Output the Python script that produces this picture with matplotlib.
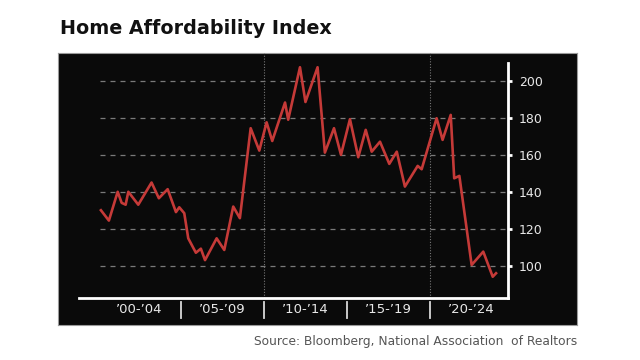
import matplotlib
matplotlib.use("Agg")
import matplotlib.pyplot as plt
import matplotlib.transforms as mtransforms

# values
years = [2000.18, 2000.66, 2001.19, 2001.43, 2001.67, 2001.83, 2002.43, 2003.23,
         2003.67, 2004.20, 2004.70, 2004.90, 2005.20, 2005.44, 2005.90, 2006.20,
         2006.45, 2007.15, 2007.61, 2008.15, 2008.55, 2009.20, 2009.72, 2010.16,
         2010.50, 2011.27, 2011.46, 2012.17, 2012.50, 2013.23, 2013.67, 2014.22,
         2014.64, 2015.18, 2015.68, 2016.13, 2016.49, 2016.99, 2017.55, 2018.00,
         2018.49, 2019.26, 2019.50, 2020.40, 2020.76, 2021.25, 2021.46, 2021.77,
         2022.51, 2023.21, 2023.78, 2023.98]
index = [130.0, 124.4, 140.0, 134.0, 133.0, 140.0, 133.0, 145.0,
         136.5, 141.4, 129.0, 131.6, 128.4, 114.8, 107.0, 109.2,
         103.0, 114.8, 108.5, 132.0, 125.7, 174.4, 162.3, 177.6,
         167.5, 188.3, 179.0, 207.4, 188.6, 207.4, 161.2, 174.4,
         160.0, 179.3, 158.7, 173.5, 161.7, 167.1, 155.1, 161.7,
         142.8, 154.0, 152.2, 179.8, 168.1, 181.6, 147.3, 148.6,
         100.4, 107.6, 94.0, 95.9]

period_labels = ["’00-’04", "’05-’09", "’10-’14", "’15-’19", "’20-’24"]
period_starts = [2000, 2005, 2010, 2015, 2020]
y_ticks = [100, 120, 140, 160, 180, 200]

fig = plt.figure(figsize=(6.4, 3.6), dpi=100)
W, H = 640, 360

# black panel behind the chart
bg = fig.add_axes([58 / W, 1 - 325 / H, 519 / W, 272 / H], zorder=0)
bg.set_facecolor("#0a0a0a")
bg.set_xticks([])
bg.set_yticks([])
for s in bg.spines.values():
    s.set_color("#9a9a9a")
    s.set_linewidth(0.8)

fig.text(60 / W, 1 - 28 / H, "Home Affordability Index", fontsize=13.8,
         fontweight="bold", color="#111111", va="center", ha="left")
fig.text(577 / W, 1 - 341 / H, "Source: Bloomberg, National Association  of Realtors",
         fontsize=8.8, color="#555555", va="center", ha="right")

ax = fig.add_axes([79 / W, 1 - 298 / H, (508 - 79) / W, (298 - 63) / H], zorder=1)
ax.set_facecolor("none")
ax.set_xlim(1998.86, 2024.70)
ax.set_ylim(82.5, 209.7)

for s in ["top", "left"]:
    ax.spines[s].set_visible(False)
for s in ["bottom", "right"]:
    ax.spines[s].set_color("white")
    ax.spines[s].set_linewidth(2)

ax.hlines(y_ticks, 2000.1, 2024.70, colors="#7a7a7a", linestyles=(0, (4, 4)),
          linewidth=0.9, zorder=1)
for yr in [2010, 2020]:
    ax.axvline(yr, ymin=0, ymax=1.043, color="#777777", linestyle=(0, (1, 1.5)),
               linewidth=0.8, clip_on=False, zorder=1)

ax.plot(years, index, color="#c53a38", linewidth=1.9, zorder=3)

ax.yaxis.tick_right()
ax.set_yticks(y_ticks)
ax.tick_params(axis="y", colors="white", labelcolor="#e8e8e8", labelsize=9,
               direction="out", length=3, width=2, pad=5)

ax.set_xticks([])
trans = mtransforms.blended_transform_factory(ax.transData, ax.transAxes)
for start, lab in zip(period_starts, period_labels):
    ax.text(start + 2.5, -0.051, lab, transform=trans, ha="center", va="center",
            color="#e8e8e8", fontsize=9.5)
    if start > 2000:
        ax.plot([start, start], [-0.017, -0.085], transform=trans, color="#d8d8d8",
                linewidth=1.3, clip_on=False)

fig.savefig("out.png", dpi=100)
